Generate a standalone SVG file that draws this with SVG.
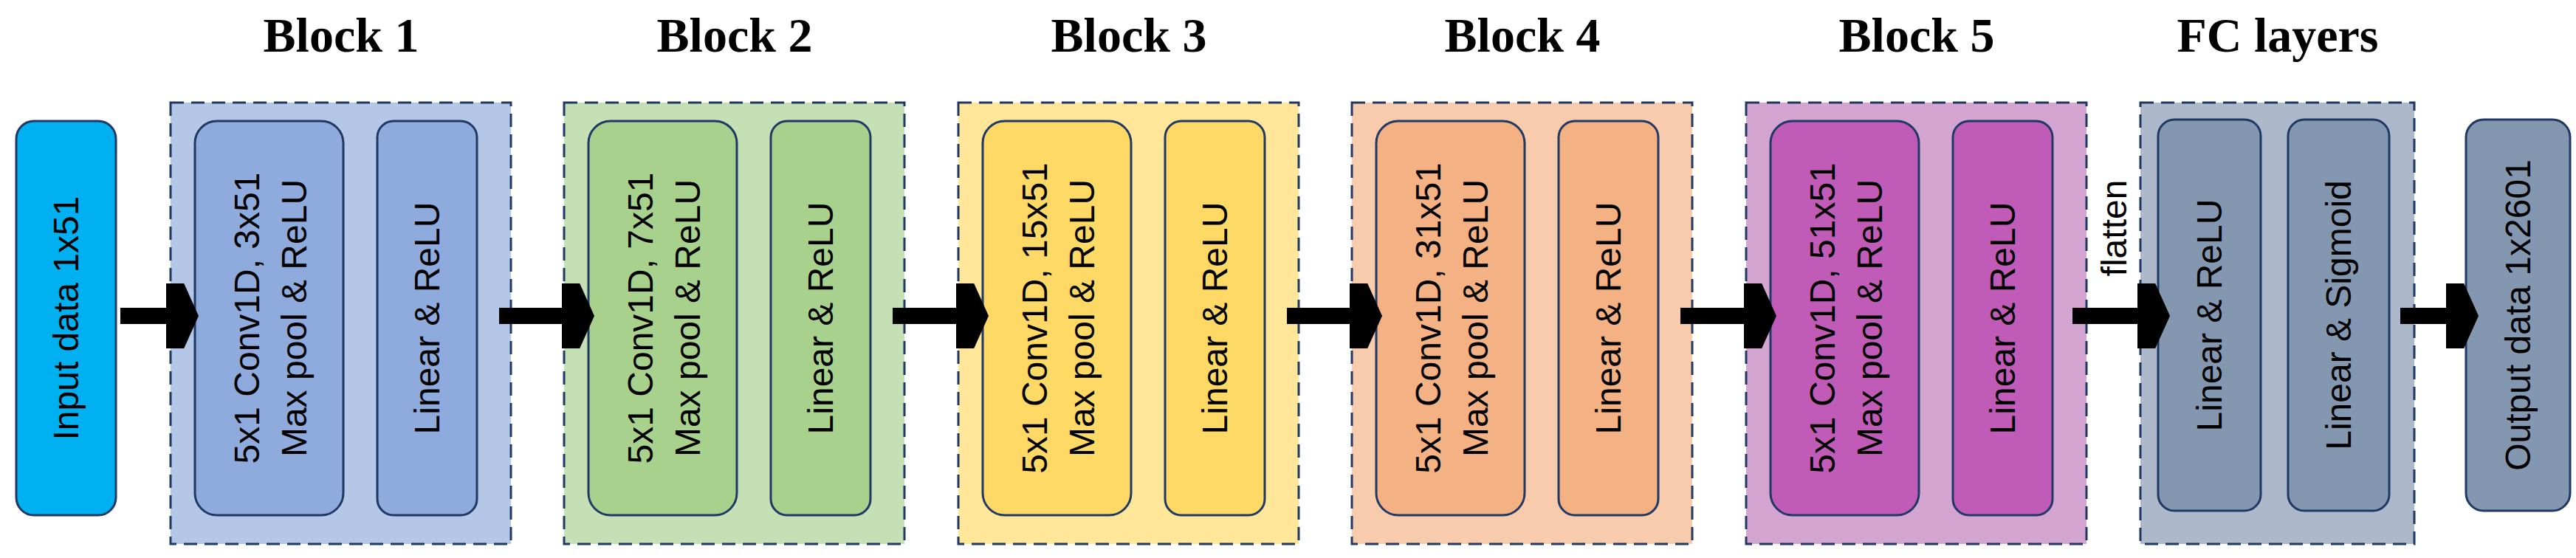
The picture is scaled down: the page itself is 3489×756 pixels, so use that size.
<svg xmlns="http://www.w3.org/2000/svg" width="3489" height="756" viewBox="0 0 3489 756">
<style>
.t{font-family:"Times New Roman","Liberation Serif",serif;font-weight:bold;font-size:66px;text-anchor:middle;fill:#000}
.l{font-family:Arial,"Liberation Sans",sans-serif;font-size:48px;text-anchor:middle;dominant-baseline:central;fill:#000}
.blk{stroke:#203864;stroke-width:3;stroke-dasharray:18 10}
.in{stroke:#203864;stroke-width:3}
</style>
<defs>
<marker id="ah" markerWidth="4" markerHeight="4" refX="0" refY="2" orient="auto" markerUnits="strokeWidth"><path d="M0,0 L1.1,0 L2,2 L1.1,4 L0,4 Z" fill="#000"/></marker>
</defs>
<rect width="3489" height="756" fill="#fff"/>
<g id="input"><rect class="in" x="22" y="164" width="135" height="534" rx="24" fill="#00B0F0"/><text class="l" transform="translate(89.5,431) rotate(-90)">Input data 1x51</text></g>
<g id="block1"><text class="t" x="462" y="70">Block 1</text><rect class="blk" x="231" y="139" width="461" height="598" fill="#B4C7E7"/>
<rect class="in" x="264" y="164" width="201" height="534" rx="30" fill="#8FAADC"/><text class="l" transform="translate(334,431) rotate(-90)">5x1 Conv1D, 3x51</text><text class="l" transform="translate(398,431) rotate(-90)">Max pool &amp; ReLU</text>
<rect class="in" x="511" y="164" width="135" height="534" rx="22" fill="#8FAADC"/><text class="l" transform="translate(578,431) rotate(-90)">Linear &amp; ReLU</text></g>
<g id="block2"><text class="t" x="995" y="70">Block 2</text><rect class="blk" x="764" y="139" width="461" height="598" fill="#C5E0B4"/>
<rect class="in" x="797" y="164" width="201" height="534" rx="30" fill="#A9D18E"/><text class="l" transform="translate(867,431) rotate(-90)">5x1 Conv1D, 7x51</text><text class="l" transform="translate(931,431) rotate(-90)">Max pool &amp; ReLU</text>
<rect class="in" x="1044" y="164" width="135" height="534" rx="22" fill="#A9D18E"/><text class="l" transform="translate(1111,431) rotate(-90)">Linear &amp; ReLU</text></g>
<g id="block3"><text class="t" x="1529" y="70">Block 3</text><rect class="blk" x="1298" y="139" width="461" height="598" fill="#FFE699"/>
<rect class="in" x="1331" y="164" width="201" height="534" rx="30" fill="#FFD966"/><text class="l" transform="translate(1401,431) rotate(-90)">5x1 Conv1D, 15x51</text><text class="l" transform="translate(1465,431) rotate(-90)">Max pool &amp; ReLU</text>
<rect class="in" x="1578" y="164" width="135" height="534" rx="22" fill="#FFD966"/><text class="l" transform="translate(1645,431) rotate(-90)">Linear &amp; ReLU</text></g>
<g id="block4"><text class="t" x="2062" y="70">Block 4</text><rect class="blk" x="1831" y="139" width="461" height="598" fill="#F8CBAD"/>
<rect class="in" x="1864" y="164" width="201" height="534" rx="30" fill="#F4B183"/><text class="l" transform="translate(1934,431) rotate(-90)">5x1 Conv1D, 31x51</text><text class="l" transform="translate(1998,431) rotate(-90)">Max pool &amp; ReLU</text>
<rect class="in" x="2111" y="164" width="135" height="534" rx="22" fill="#F4B183"/><text class="l" transform="translate(2178,431) rotate(-90)">Linear &amp; ReLU</text></g>
<g id="block5"><text class="t" x="2596" y="70">Block 5</text><rect class="blk" x="2365" y="139" width="461" height="598" fill="#D4A5D0"/>
<rect class="in" x="2398" y="164" width="201" height="534" rx="30" fill="#C05CB8"/><text class="l" transform="translate(2468,431) rotate(-90)">5x1 Conv1D, 51x51</text><text class="l" transform="translate(2532,431) rotate(-90)">Max pool &amp; ReLU</text>
<rect class="in" x="2645" y="164" width="135" height="534" rx="22" fill="#C05CB8"/><text class="l" transform="translate(2712,431) rotate(-90)">Linear &amp; ReLU</text></g>
<g id="fc"><text class="t" x="3085" y="70">FC layers</text><rect class="blk" x="2899" y="139" width="371" height="598" fill="#ADB9CA"/>
<rect class="in" x="2923" y="162" width="139" height="530" rx="22" fill="#8497B0"/><text class="l" transform="translate(2992,427) rotate(-90)">Linear &amp; ReLU</text>
<rect class="in" x="3099" y="162" width="137" height="530" rx="22" fill="#8497B0"/><text class="l" transform="translate(3167,427) rotate(-90)">Linear &amp; Sigmoid</text></g>
<g id="output"><rect class="in" x="3340" y="162" width="141" height="530" rx="24" fill="#8497B0"/><text class="l" transform="translate(3410,427) rotate(-90)">Output data 1x2601</text></g>
<g id="connectors" stroke="#000" stroke-width="22" fill="none" marker-end="url(#ah)">
<line x1="163" y1="428" x2="225" y2="428"/>
<line x1="676" y1="428" x2="761" y2="428"/>
<line x1="1209" y1="428" x2="1295" y2="428"/>
<line x1="1743" y1="428" x2="1828" y2="428"/>
<line x1="2276" y1="428" x2="2362" y2="428"/>
<line x1="2807" y1="428" x2="2895" y2="428"/>
<line x1="3251" y1="428" x2="3313" y2="428"/>
<text class="l" stroke="none" fill="#000" font-size="48" transform="translate(2863,309) rotate(-90)">flatten</text>
</g>
</svg>
